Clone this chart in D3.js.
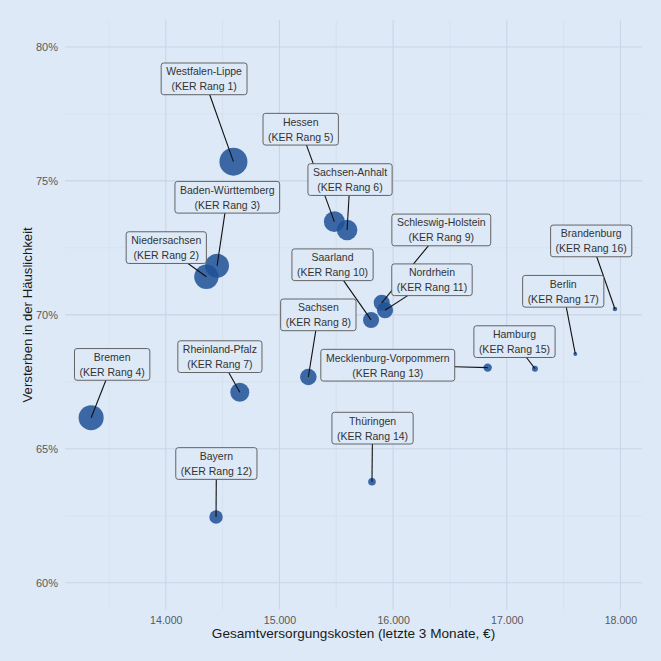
<!DOCTYPE html>
<html>
<head>
<meta charset="utf-8">
<script src="https://cdn.jsdelivr.net/npm/d3@7"></script>
<style>
  html, body { margin: 0; padding: 0; background: #dde9f7; }
  svg { display: block; font-family: "Liberation Sans", Arial, sans-serif; }
</style>
</head>
<body>
<svg id="chart" width="661" height="661"></svg>
<script>
// ---- data ----
const regions = ["Westfalen-Lippe","Niedersachsen","Baden-Württemberg","Bremen","Hessen","Sachsen-Anhalt","Rheinland-Pfalz","Sachsen","Schleswig-Holstein","Saarland","Nordrhein","Bayern","Mecklenburg-Vorpommern","Thüringen","Hamburg","Brandenburg","Berlin"];
const kerRang = [1,2,3,4,5,6,7,8,9,10,11,12,13,14,15,16,17];
const kosten = [14595,14357,14451,13343,15483,15595,14651,15254,15900,15806,15929,14442,16832,15814,17248,17952,17603];
const haeuslichkeit = [75.72,71.42,71.83,66.16,73.48,73.17,67.11,67.68,70.45,69.81,70.17,62.45,68.03,63.77,67.99,70.22,68.54];
const groesse = [100,76,73,80,56,54,46,35,33,33,33,23,9,7.4,4.6,2.7,2];
// label anchor positions (data units, as placed by repel)
const labelKosten = [14337,14004,14541,13528,15187,15621,14476,15342,16424,15467,16342,14445,15953,15819,17068,17743,17497];
const labelHaeusl = [78.81,72.51,74.39,68.15,76.93,75.05,68.44,70.00,73.17,71.87,71.31,64.45,68.12,65.77,69.00,72.76,70.88];
const xTicks = [14000,15000,16000,17000,18000];
const xMinor = [13500,14500,15500,16500,17500];
const yTicks = [60,65,70,75,80];
const yMinor = [62.5,67.5,72.5,77.5];
const xDomain = [13113,18190];
const yDomain = [59,81];
const xTitle = "Gesamtversorgungskosten (letzte 3 Monate, €)";
const yTitle = "Versterben in der Häuslichkeit";

// ---- layout ----
const panel = {left: 65, right: 642, top: 20.2, bottom: 609.5};
const svg = d3.select("#chart");
const x = d3.scaleLinear().domain(xDomain).range([panel.left, panel.right]);
const y = d3.scaleLinear().domain(yDomain).range([panel.bottom, panel.top]);
const r = d3.scaleSqrt().domain([0,100]).range([0,14]);

svg.append("rect").attr("width",661).attr("height",661).attr("fill","#dde9f7");

const grid = svg.append("g");
grid.selectAll(".xminor").data(xMinor).join("line")
  .attr("x1",d=>x(d)).attr("x2",d=>x(d)).attr("y1",panel.top).attr("y2",panel.bottom)
  .attr("stroke","#d2deed").attr("stroke-width",0.6);
grid.selectAll(".yminor").data(yMinor).join("line")
  .attr("y1",d=>y(d)).attr("y2",d=>y(d)).attr("x1",panel.left).attr("x2",panel.right)
  .attr("stroke","#d2deed").attr("stroke-width",0.6);
grid.selectAll(".xmajor").data(xTicks).join("line")
  .attr("x1",d=>x(d)).attr("x2",d=>x(d)).attr("y1",panel.top).attr("y2",panel.bottom)
  .attr("stroke","#c9d5e5").attr("stroke-width",1.1);
grid.selectAll(".ymajor").data(yTicks).join("line")
  .attr("y1",d=>y(d)).attr("y2",d=>y(d)).attr("x1",panel.left).attr("x2",panel.right)
  .attr("stroke","#c9d5e5").attr("stroke-width",1.1);

// axes via d3 axis generators
const fmtX = d => d3.format(",")(d).replace(/,/g,".");
const xAxis = svg.append("g").attr("transform",`translate(0,${panel.bottom})`)
  .call(d3.axisBottom(x).tickValues(xTicks).tickFormat(fmtX).tickSize(0).tickPadding(7));
const yAxis = svg.append("g").attr("transform",`translate(${panel.left},0)`)
  .call(d3.axisLeft(y).tickValues(yTicks).tickFormat(d=>d+"%").tickSize(0).tickPadding(7));
[xAxis,yAxis].forEach(a=>{
  a.select(".domain").remove();
  a.selectAll("text").attr("fill","#595959")
    .attr("font-family","'Liberation Sans', Arial, sans-serif");
});
xAxis.selectAll("text").attr("font-size","10.6px");
yAxis.selectAll("text").attr("font-size","11px");

svg.append("text").attr("x",(panel.left+panel.right)/2).attr("y",638)
  .attr("text-anchor","middle").attr("font-size","13.6px").attr("fill","#1a1a1a").text(xTitle);
svg.append("text").attr("transform",`translate(31.5,${(panel.top+panel.bottom)/2}) rotate(-90)`)
  .attr("text-anchor","middle").attr("font-size","13.2px").attr("fill","#1a1a1a").text(yTitle);

const data = regions.map((n,i)=>({name:n, rang:kerRang[i], kx:kosten[i], hy:haeuslichkeit[i], g:groesse[i], lx:labelKosten[i], ly:labelHaeusl[i]}));

// points
svg.append("g").selectAll("circle").data(data).join("circle")
  .attr("cx",d=>x(d.kx)).attr("cy",d=>y(d.hy)).attr("r",d=>r(d.g))
  .attr("fill","#1f5196").attr("fill-opacity",0.85);

// labels
const segG = svg.append("g");
const labG = svg.append("g");
const boxH = 31.7;
data.forEach(d=>{
  const cx = x(d.lx), cy = y(d.ly);
  const g = labG.append("g");
  const t = g.append("text").attr("text-anchor","middle").attr("font-size","10.5px").attr("fill","#333");
  t.append("tspan").attr("x",cx).attr("y",cy-boxH/2+12.4).text(d.name);
  t.append("tspan").attr("x",cx).attr("y",cy-boxH/2+27.4).text(`(KER Rang ${d.rang})`);
  const w = t.node().getBBox().width + 10;
  g.insert("rect","text").attr("x",cx-w/2).attr("y",cy-boxH/2).attr("width",w).attr("height",boxH)
    .attr("rx",2.5).attr("fill","#dde9f7").attr("stroke","#555").attr("stroke-width",0.9);
  // segment from box edge to point
  const px = x(d.kx), py = y(d.hy);
  const dx = px-cx, dy = py-cy;
  const tx = dx!==0 ? (w/2)/Math.abs(dx) : Infinity;
  const ty = dy!==0 ? (boxH/2)/Math.abs(dy) : Infinity;
  const tt = Math.min(tx,ty);
  if (tt < 1) {
    segG.append("line").attr("x1",cx+dx*tt).attr("y1",cy+dy*tt).attr("x2",px).attr("y2",py)
      .attr("stroke","#111").attr("stroke-width",1.1);
  }
});
</script>
</body>
</html>
